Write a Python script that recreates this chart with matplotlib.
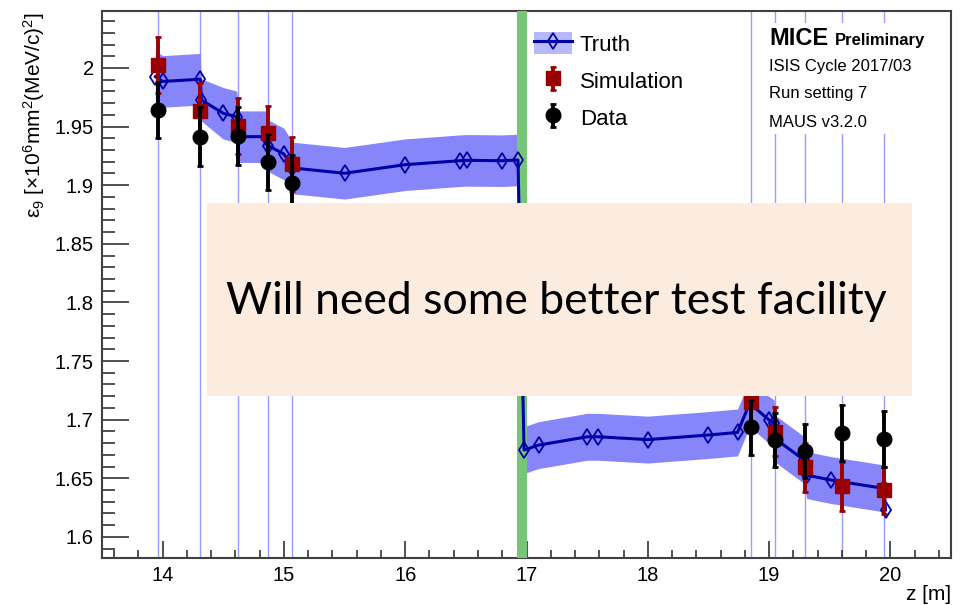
import numpy as np
import matplotlib
matplotlib.use("Agg")
import matplotlib.pyplot as plt
from matplotlib.patches import Rectangle, Patch
from matplotlib.ticker import MultipleLocator, FuncFormatter

plt.rcParams['font.family'] = ['Liberation Sans', 'DejaVu Sans']
plt.rcParams['mathtext.fontset'] = 'custom'
plt.rcParams['mathtext.rm'] = 'Liberation Sans'
plt.rcParams['mathtext.it'] = 'Liberation Sans:italic'

# tracker station positions [m]
stations = [13.96, 14.31, 14.62, 14.87, 15.07, 18.85, 19.05, 19.30, 19.60, 19.95]

# truth curve with its error band
truth_z = [13.94, 14.00, 14.31, 14.32, 14.50, 14.61, 14.63, 14.85, 14.87, 15.00,
           15.07, 15.50, 16.00, 16.45, 16.51, 16.80, 16.93, 16.98, 17.10, 17.50,
           17.59, 18.00, 18.50, 18.74, 18.84, 19.00, 19.04, 19.06, 19.29, 19.31,
           19.51, 19.95, 19.96]
truth_val = [1.9926, 1.9885, 1.9904, 1.9727, 1.9613, 1.9584, 1.9414, 1.9414, 1.9337, 1.9266,
             1.9147, 1.9102, 1.9175, 1.9209, 1.9212, 1.9209, 1.9215, 1.6741, 1.6783, 1.6854,
             1.6854, 1.6830, 1.6869, 1.6891, 1.7140, 1.6997, 1.6970, 1.6830, 1.6655, 1.6527,
             1.6485, 1.6413, 1.6230]
truth_err = [0.022, 0.022, 0.022, 0.018, 0.022, 0.022, 0.022, 0.022, 0.022, 0.022,
             0.022, 0.022, 0.022, 0.022, 0.022, 0.022, 0.022, 0.020, 0.020, 0.020,
             0.020, 0.020, 0.020, 0.020, 0.020, 0.020, 0.020, 0.020, 0.020, 0.020,
             0.020, 0.020, 0.000]

sim_val = [2.0026, 1.9636, 1.9505, 1.9443, 1.9181, 1.7153, 1.6897, 1.6593, 1.6433, 1.6399]
sim_err = [0.024, 0.024, 0.024, 0.023, 0.023, 0.023, 0.021, 0.021, 0.021, 0.020]

data_val = [1.9642, 1.9414, 1.9420, 1.9200, 1.9021, 1.6934, 1.6826, 1.6732, 1.6888, 1.6834]
data_err = [0.024, 0.025, 0.025, 0.024, 0.024, 0.0235, 0.023, 0.023, 0.0237, 0.024]

absorber = (16.92, 17.0)

W, H = 969, 605
fig = plt.figure(figsize=(W / 100, H / 100), dpi=100)
ax = fig.add_axes([102 / W, 47 / H, 849 / W, 547 / H])
ax.set_xlim(13.5, 20.5)
ax.set_ylim(1.582, 2.0486)

for z in stations:
    ax.axvline(z, color='#9c9cff', lw=1.0, zorder=1)

tv = np.array(truth_val)
te = np.array(truth_err)
ax.fill_between(truth_z, tv - te, tv + te, color='#8686fa', lw=0, zorder=2)
ax.axvspan(*absorber, color='#77c677', lw=0, zorder=3)
truth_line, = ax.plot(truth_z, truth_val, color='#0000a8', lw=2.2, marker='d', ms=8.5,
                      mfc='none', mec='#0000a8', mew=1.3, zorder=4)

sim = ax.errorbar(stations, sim_val, yerr=sim_err, fmt='s', color='#990000', ms=10.5,
                  elinewidth=2.8, capsize=2.5, capthick=2, zorder=5)
data = ax.errorbar(stations, data_val, yerr=data_err, fmt='o', color='black', ms=10.5,
                   elinewidth=2.8, capsize=2.5, capthick=2, zorder=6)

# axis styling (ROOT look)
ax.xaxis.set_major_locator(MultipleLocator(1))
ax.xaxis.set_minor_locator(MultipleLocator(0.2))
ax.yaxis.set_major_locator(MultipleLocator(0.05))
ax.yaxis.set_minor_locator(MultipleLocator(0.01))
ax.yaxis.set_major_formatter(FuncFormatter(lambda v, p: f"{v:g}"))
ax.xaxis.set_major_formatter(FuncFormatter(lambda v, p: f"{v:g}"))
ax.tick_params(which='both', direction='in', top=False, right=False, width=1.1,
               color='#222222', labelsize=14.5, pad=6)
ax.tick_params(axis='y', which='major', length=19.5)
ax.tick_params(axis='y', which='minor', length=9.5)
ax.tick_params(axis='x', which='major', length=12)
ax.tick_params(axis='x', which='minor', length=6)
for s in ax.spines.values():
    s.set_color('#404040')
    s.set_linewidth(1.5)

# legend
band_patch = Patch(facecolor='#b8b8fc', edgecolor='none')
ax.legend(handles=[(band_patch, truth_line), sim, data],
          labels=['Truth', 'Simulation', 'Data'],
          loc='upper left', bbox_to_anchor=(0.509, 0.961), frameon=False,
          fontsize=16, handlelength=1.7, handleheight=1.1, labelspacing=0.62,
          handletextpad=0.35, borderpad=0, borderaxespad=0)

# MICE label block on white background
ax.add_patch(Rectangle((0.775, 0.775), 0.215, 0.203, transform=ax.transAxes,
                       facecolor='white', edgecolor='none', zorder=7))
fig.text(769 / W, 1 - 45 / H, 'MICE', fontsize=17, fontweight='bold', va='baseline')
fig.text(835 / W, 1 - 45 / H, 'Preliminary', fontsize=12, fontweight='bold', va='baseline')
fig.text(769 / W, 1 - 71.5 / H, 'ISIS Cycle 2017/03', fontsize=12, va='baseline')
fig.text(769 / W, 1 - 98 / H, 'Run setting 7', fontsize=12, va='baseline')
fig.text(769 / W, 1 - 127 / H, 'MAUS v3.2.0', fontsize=12, va='baseline')

# axis titles
fig.text(34 / W, 1 - 12 / H,
         r'$\mathregular{\varepsilon_9}$ [$\mathregular{\times10^6mm^2(MeV/c)^2}$]',
         rotation=90, ha='center', va='top', fontsize=15)
fig.text(951 / W, 1 - 595 / H, 'z [m]', ha='right', va='center', fontsize=15)

# overlay note box
fig.add_artist(Rectangle((207 / W, (H - 396) / H), 705 / W, 193 / H,
                         transform=fig.transFigure, facecolor='#fcebdf',
                         edgecolor='none', zorder=10))
fig.text(556 / W, 1 - 302 / H, 'Will need some better test facility',
         family=['Lato', 'DejaVu Sans'], fontsize=32, ha='center', va='center', zorder=11)

fig.savefig('out.png', dpi=100)
